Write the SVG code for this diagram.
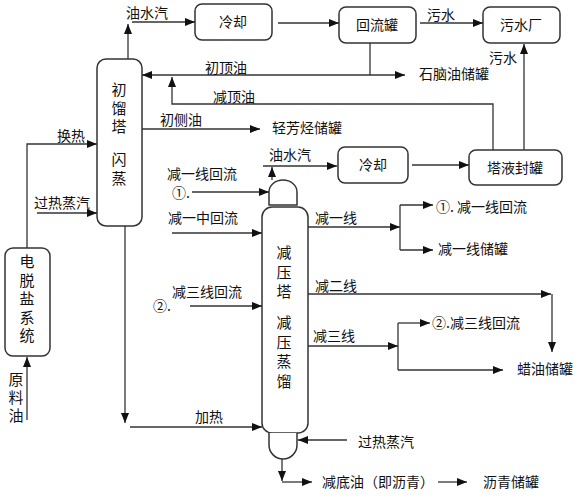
<svg xmlns="http://www.w3.org/2000/svg" width="582" height="501" viewBox="0 0 582 501">
<defs>
<marker id="ah" markerUnits="userSpaceOnUse" markerWidth="10" markerHeight="8" refX="10" refY="4" orient="auto">
<path d="M0,0 L10,4 L0,8 z" fill="#111"/>
</marker>
<style>
.box{fill:#fff;stroke:#333;stroke-width:1.5}
.ln{fill:none;stroke:#333;stroke-width:1.3}
.ar{fill:none;stroke:#333;stroke-width:1.3;marker-end:url(#ah)}
text{font-family:"Noto Sans CJK SC","Liberation Sans",sans-serif;font-size:14px;fill:#111}
.v{font-size:15px;writing-mode:vertical-rl;letter-spacing:3.5px}
.v2{font-size:15px;writing-mode:vertical-rl;letter-spacing:4.5px}
.c{text-anchor:middle}
</style>
</defs>
<rect width="582" height="501" fill="#fff"/>

<g id="tower1">
<rect class="box" x="97" y="59" width="45" height="167" rx="9"/>
<text class="v" x="119" y="82">初馏塔</text>
<text class="v" x="119" y="152">闪蒸</text>
</g>
<g id="cool1">
<rect class="box" x="195" y="4" width="77" height="36" rx="7"/>
<text class="c" x="233" y="27">冷却</text>
</g>
<g id="reflux">
<rect class="box" x="339" y="7" width="77" height="36" rx="7"/>
<text class="c" x="377" y="30">回流罐</text>
</g>
<g id="wwplant">
<rect class="box" x="483" y="7" width="77" height="36" rx="7"/>
<text class="c" x="521" y="30">污水厂</text>
</g>
<g id="cool2">
<rect class="box" x="338" y="147" width="70" height="36" rx="7"/>
<text class="c" x="373" y="170">冷却</text>
</g>
<g id="sealtank">
<rect class="box" x="469" y="150" width="93" height="35" rx="7"/>
<text class="c" x="515" y="173">塔液封罐</text>
</g>
<g id="desalt">
<rect class="box" x="5" y="248" width="45" height="108" rx="8"/>
<text class="v" x="27" y="254">电脱盐系统</text>
</g>
<g id="feed">
<text class="v" x="16" y="372" style="letter-spacing:3px">原料油</text>
</g>
<g id="vtower">
<path class="box" d="M269,205 L269,192 A14,12 0 0 1 297,192 L297,205 Z"/>
<rect class="box" x="262" y="207" width="46" height="226" rx="10"/>
<path class="box" d="M269,433 L269,445 A14,14 0 0 0 297,445 L297,433"/>
<text class="v2" x="284" y="245">减压塔</text>
<text class="v2" x="284" y="315">减压蒸馏</text>
</g>
<g id="naphtha"><text x="419" y="79">石脑油储罐</text></g>
<g id="aromatic"><text x="272" y="133">轻芳烃储罐</text></g>
<g id="reflux1"><text x="436" y="212">①. 减一线回流</text></g>
<g id="tank1"><text x="438" y="254">减一线储罐</text></g>
<g id="reflux3"><text x="432" y="328">②.减三线回流</text></g>
<g id="waxtank"><text x="517" y="374">蜡油储罐</text></g>
<g id="asphalt"><text x="322" y="487">减底油（即沥青）</text></g>
<g id="asphalttank"><text x="483" y="487">沥青储罐</text></g>

<g id="connectors">
<path class="ar" d="M128,59 V24"/>
<path class="ar" d="M132,22 H195"/>
<path class="ar" d="M278,23 H339"/>
<path class="ar" d="M420,23 H483"/>
<path class="ln" d="M370,43 V75"/>
<path class="ar" d="M370,75 H142"/>
<path class="ar" d="M370,75 H405"/>
<path class="ar" d="M493,150 V104 H172 V77"/>
<path class="ar" d="M142,129 H260"/>
<path class="ar" d="M524,150 V44"/>
<path class="ar" d="M272,180 V167"/>
<path class="ar" d="M263,166 H337"/>
<path class="ar" d="M412,165 H469"/>
<path class="ar" d="M27,248 V144 H97"/>
<path class="ar" d="M37,213 H97"/>
<path class="ar" d="M27,420 V357"/>
<path class="ar" d="M125,226 V423"/>
<path class="ar" d="M130,427 H262"/>
<path class="ar" d="M192,192 H269"/>
<path class="ar" d="M172,233 H262"/>
<path class="ar" d="M190,306 H262"/>
<path class="ar" d="M308,227 H400"/>
<path class="ln" d="M400,205 V250"/>
<path class="ar" d="M400,205 H433"/>
<path class="ar" d="M400,250 H433"/>
<path class="ar" d="M308,294 H551"/>
<path class="ar" d="M552,294 V352"/>
<path class="ar" d="M308,346 H398"/>
<path class="ln" d="M398,323 V370"/>
<path class="ar" d="M398,323 H430"/>
<path class="ar" d="M398,370 H503"/>
<path class="ar" d="M347,440 H298"/>
<path class="ar" d="M282,459 V481"/>
<path class="ar" d="M282,482 H312"/>
<path class="ar" d="M438,482 H467"/>
<text x="126" y="18">油水汽</text>
<text x="427" y="20">污水</text>
<text x="205" y="73">初顶油</text>
<text x="213" y="102">减顶油</text>
<text x="489" y="63">污水</text>
<text x="160" y="125">初侧油</text>
<text x="269" y="160">油水汽</text>
<text x="57" y="141">换热</text>
<text x="34" y="208">过热蒸汽</text>
<text x="167" y="179">减一线回流</text>
<text x="172" y="198">①.</text>
<text x="168" y="223">减一中回流</text>
<text x="172" y="297">减三线回流</text>
<text x="153" y="311">②.</text>
<text x="315" y="223">减一线</text>
<text x="315" y="291">减二线</text>
<text x="313" y="341">减三线</text>
<text x="195" y="422">加热</text>
<text x="358" y="447">过热蒸汽</text>
</g>
</svg>
